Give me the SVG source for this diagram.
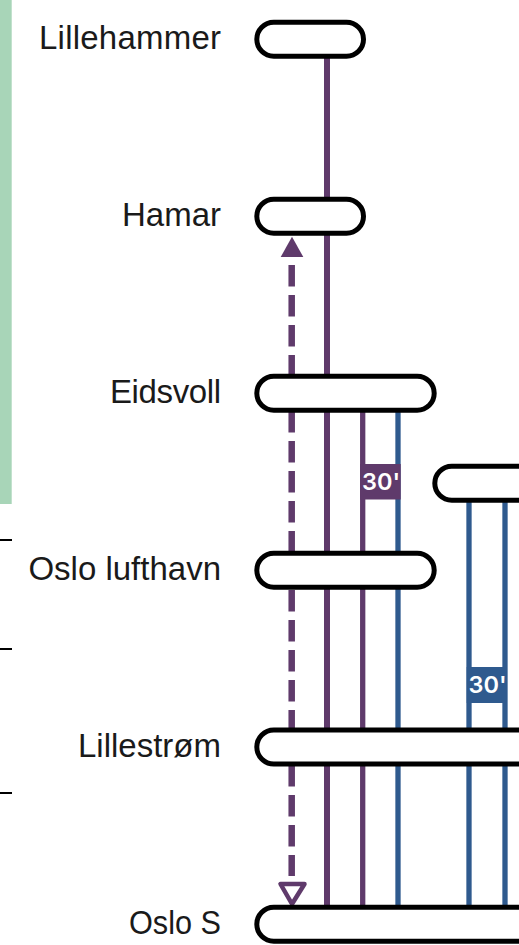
<svg xmlns="http://www.w3.org/2000/svg" width="519" height="945" viewBox="0 0 519 945">
<style>
.st{fill:#fff;stroke:#000;stroke-width:5}
.lb{font-family:"Liberation Sans",Arial,sans-serif;font-size:33px;fill:#1a1a1a;text-anchor:end}
.pu{stroke:#5f3a6b;fill:none}
.bl{stroke:#2f5a8e;fill:none}
.w6{stroke-width:6}
.w5{stroke-width:5.300}
.da{stroke-width:6.500;stroke-dasharray:21.500 8.500}
.tg{font-family:Inter,"Liberation Sans",sans-serif;font-size:23.500px;font-weight:600;fill:#fff;text-anchor:middle}
</style>
<rect x="0" y="0" width="11.700" height="504" fill="#a8d5b8"/>
<g id="ticks" stroke="#000" stroke-width="2">
<line x1="0" y1="540" x2="12" y2="540"/>
<line x1="0" y1="649" x2="12" y2="649"/>
<line x1="0" y1="793" x2="12" y2="793"/>
</g>
<g id="connectors">
<line class="pu w6" x1="327" y1="40" x2="327" y2="925"/>
<line class="pu w5" x1="362.700" y1="394" x2="362.700" y2="925"/>
<line class="bl w5" x1="398" y1="394" x2="398" y2="925"/>
<line class="bl w5" x1="469" y1="484" x2="469" y2="925"/>
<line class="bl w5" x1="505" y1="484" x2="505" y2="925"/>
<line class="pu da" x1="291.700" y1="265" x2="291.700" y2="376"/>
<line class="pu da" x1="291.700" y1="411" x2="291.700" y2="553"/>
<line class="pu da" x1="291.700" y1="590" x2="291.700" y2="729"/>
<line class="pu da" x1="291.700" y1="765" x2="291.700" y2="876"/>
<polygon points="292,236.700 280.700,257 303.300,257" fill="#5f3a6b"/>
<polygon points="280.500,884 304.500,884 292,904" fill="#fff" stroke="#5f3a6b" stroke-width="4.500" stroke-linejoin="round"/>
</g>
<g id="tag-30-purple"><rect x="360" y="464" width="40.700" height="35.500" fill="#5f3a6b"/><text class="tg" x="381" y="490">30'</text></g>
<g id="tag-30-blue"><rect x="466.700" y="667" width="40" height="36" fill="#2f5a8e"/><text class="tg" x="487.500" y="693">30'</text></g>
<g id="lillehammer"><rect class="st" x="256.800" y="22.300" width="106.700" height="34" rx="17"/><text class="lb" x="221" y="49" textLength="182">Lillehammer</text></g>
<g id="hamar"><rect class="st" x="256.800" y="199.300" width="106.700" height="34" rx="17"/><text class="lb" x="221" y="226">Hamar</text></g>
<g id="eidsvoll"><rect class="st" x="256.800" y="376.300" width="177.400" height="34" rx="17"/><text class="lb" x="221" y="403" textLength="111">Eidsvoll</text></g>
<g id="ukjent"><rect class="st" x="434.800" y="466.300" width="120" height="34" rx="17"/></g>
<g id="oslo-lufthavn"><rect class="st" x="256.800" y="553.300" width="177.400" height="34" rx="17"/><text class="lb" x="221" y="580">Oslo lufthavn</text></g>
<g id="lillestrom"><rect class="st" x="256.800" y="730" width="300" height="34" rx="17"/><text class="lb" x="221" y="757">Lillestrøm</text></g>
<g id="oslo-s"><rect class="st" x="256.800" y="907.200" width="300" height="34" rx="17"/><text class="lb" x="221" y="934" textLength="92" lengthAdjust="spacingAndGlyphs">Oslo S</text></g>
</svg>
